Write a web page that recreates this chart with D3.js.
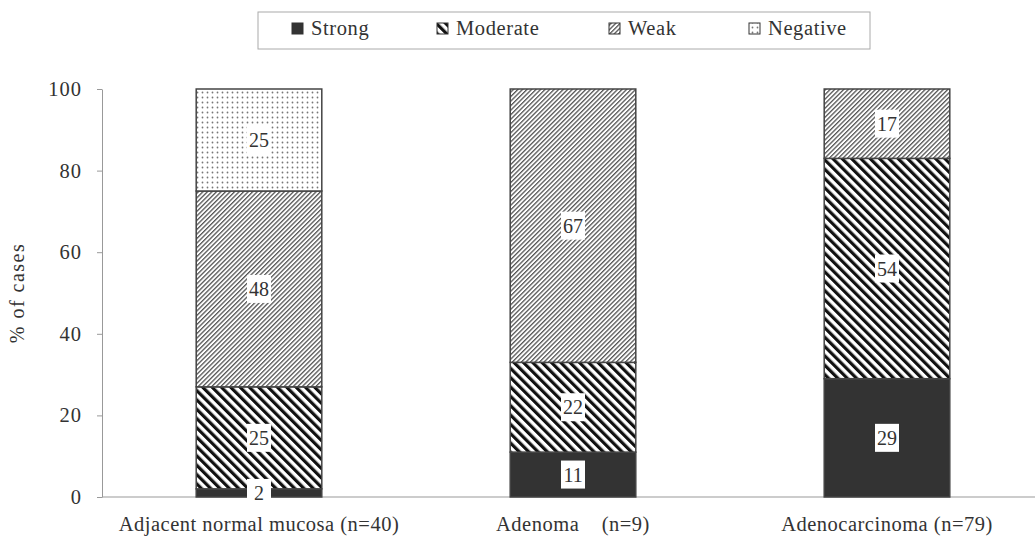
<!DOCTYPE html>
<html>
<head>
<meta charset="utf-8">
<script src="https://cdn.jsdelivr.net/npm/d3@7"></script>
<style>
  body { margin: 0; background: #fff; }
</style>
</head>
<body>
<div id="chart"></div>
<script>
const categories = ['Adjacent normal mucosa (n=40)', 'Adenoma    (n=9)', 'Adenocarcinoma (n=79)'];
const seriesNames = ['Strong', 'Moderate', 'Weak', 'Negative'];
const strongValues = [2, 11, 29];
const moderateValues = [25, 22, 54];
const weakValues = [48, 67, 17];
const negativeValues = [25, 0, 0];
const yTicks = [0, 20, 40, 60, 80, 100];

const FONT = 'Liberation Serif';
const width = 1035, height = 539;
const margin = {left: 102, top: 89, bottom: 42};
const plotRight = 1044;

const svg = d3.select('#chart').append('svg')
  .attr('width', width)
  .attr('height', height);

// fill patterns
const defs = svg.append('defs');
const stripes = (id, angle, period, sw, color) => {
  const p = defs.append('pattern')
    .attr('id', id)
    .attr('patternUnits', 'userSpaceOnUse')
    .attr('width', period)
    .attr('height', period)
    .attr('patternTransform', `rotate(${angle})`);
  p.append('rect').attr('width', period).attr('height', period).attr('fill', '#fff');
  p.append('rect').attr('width', sw).attr('height', period).attr('fill', color);
};
stripes('pat-moderate', -45, 6.6, 3.2, '#111');
stripes('pat-weak', 45, 3.2, 1.3, '#555');
const dots = defs.append('pattern')
  .attr('id', 'pat-negative')
  .attr('patternUnits', 'userSpaceOnUse')
  .attr('width', 5)
  .attr('height', 5);
dots.append('rect').attr('width', 5).attr('height', 5).attr('fill', '#fff');
dots.append('circle').attr('cx', 2.5).attr('cy', 2.5).attr('r', 0.9).attr('fill', '#777');

const fills = {
  Strong: '#333',
  Moderate: 'url(#pat-moderate)',
  Weak: 'url(#pat-weak)',
  Negative: 'url(#pat-negative)'
};

const data = categories.map((c, i) => ({
  cat: c,
  Strong: strongValues[i],
  Moderate: moderateValues[i],
  Weak: weakValues[i],
  Negative: negativeValues[i]
}));
const stacked = d3.stack().keys(seriesNames)(data);

const x = d3.scaleBand().domain(categories).range([margin.left, plotRight]).paddingInner(0.6).paddingOuter(0.3);
const y = d3.scaleLinear().domain([0, 100]).range([height - margin.bottom, margin.top]);

// axes
svg.append('line')
  .attr('x1', margin.left).attr('x2', width)
  .attr('y1', y(0)).attr('y2', y(0))
  .attr('stroke', '#999').attr('stroke-width', 1);

const yAxis = svg.append('g')
  .attr('transform', `translate(${margin.left},0)`)
  .call(d3.axisLeft(y).tickValues(yTicks).tickSize(5).tickPadding(15).tickSizeOuter(0));
yAxis.select('.domain').attr('stroke', '#999');
yAxis.selectAll('.tick line').attr('stroke', '#999');
yAxis.selectAll('.tick text')
  .attr('fill', '#333')
  .attr('font-family', FONT)
  .attr('font-size', 20.5)
  .attr('letter-spacing', 1);

svg.append('text')
  .attr('transform', `translate(24,${(y(0) + y(100)) / 2}) rotate(-90)`)
  .attr('text-anchor', 'middle')
  .attr('fill', '#333')
  .attr('font-family', FONT)
  .attr('font-size', 20)
  .attr('letter-spacing', 1.5)
  .text('% of cases');

svg.append('g').selectAll('text')
  .data(categories)
  .enter()
  .append('text')
  .attr('x', d => x(d) + x.bandwidth() / 2)
  .attr('y', y(0) + 34)
  .attr('text-anchor', 'middle')
  .attr('fill', '#333')
  .attr('font-family', FONT)
  .attr('font-size', 20.5)
  .attr('letter-spacing', 0.5)
  .style('white-space', 'pre')
  .text(d => d);

// bars
const layers = svg.append('g').selectAll('g')
  .data(stacked)
  .enter()
  .append('g');
layers.selectAll('rect')
  .data(s => s.map(d => ({key: s.key, d: d})).filter(o => o.d[1] > o.d[0]))
  .enter()
  .append('rect')
  .attr('x', o => x(o.d.data.cat))
  .attr('y', o => y(o.d[1]))
  .attr('width', x.bandwidth())
  .attr('height', o => y(o.d[0]) - y(o.d[1]))
  .attr('fill', o => fills[o.key])
  .attr('stroke', '#444')
  .attr('stroke-width', 1.5);

// value labels
const labels = [];
stacked.forEach(s => s.forEach(d => {
  if (d[1] > d[0]) labels.push({v: d[1] - d[0], cx: x(d.data.cat) + x.bandwidth() / 2, cy: y((d[0] + d[1]) / 2)});
}));
const lab = svg.append('g').selectAll('g')
  .data(labels)
  .enter()
  .append('g')
  .attr('transform', d => `translate(${d.cx},${d.cy})`);
lab.append('rect')
  .attr('x', -12).attr('y', -14)
  .attr('width', 24).attr('height', 28)
  .attr('fill', '#fff');
lab.append('text')
  .attr('text-anchor', 'middle')
  .attr('dy', '0.35em')
  .attr('fill', '#333')
  .attr('font-family', FONT)
  .attr('font-size', 20)
  .text(d => d.v);

// legend
const legend = svg.append('g');
legend.append('rect')
  .attr('x', 258).attr('y', 12)
  .attr('width', 612).attr('height', 37)
  .attr('fill', '#fff')
  .attr('stroke', '#aaa')
  .attr('stroke-width', 1);
const legendX = [292, 437, 609, 749];
seriesNames.forEach((s, i) => {
  legend.append('rect')
    .attr('x', legendX[i]).attr('y', 23)
    .attr('width', 11).attr('height', 11)
    .attr('fill', fills[s])
    .attr('stroke', '#333')
    .attr('stroke-width', 1);
  legend.append('text')
    .attr('x', legendX[i] + 19).attr('y', 35)
    .attr('fill', '#333')
    .attr('font-family', FONT)
    .attr('font-size', 20.5)
    .attr('letter-spacing', 0.6)
    .text(s);
});
</script>
</body>
</html>
